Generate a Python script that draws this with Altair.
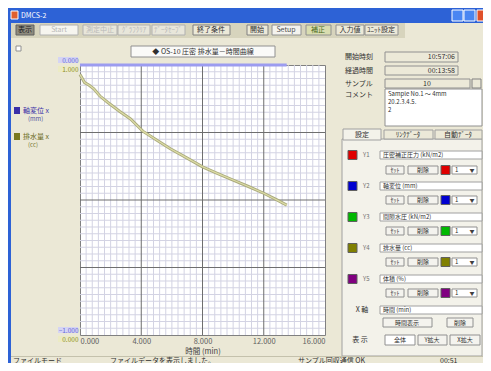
import altair as alt
import pandas as pd

# ---------------- data ----------------
time_min = [0.0, 0.3, 0.6, 0.9, 1.3, 1.8, 2.6, 3.3, 4.1, 5.0, 5.9, 7.0, 8.0, 9.0, 10.0, 11.0, 12.0, 12.8, 13.5]
drainage_cc = [0.965, 0.935, 0.925, 0.912, 0.885, 0.862, 0.828, 0.800, 0.755, 0.722, 0.690,
               0.655, 0.623, 0.598, 0.574, 0.550, 0.525, 0.502, 0.481]
axial_disp_mm = [0.0, 0.0, 0.0, 0.0, 0.0, 0.0, 0.0, 0.0, 0.0, 0.0, 0.0,
                 0.0, 0.0, 0.0, 0.0, 0.0, 0.0, 0.0, 0.0]
x_tick_values = [0, 4, 8, 12, 16]
drain_axis_values = [0, 1]
disp_axis_values = [-1, 0]
x_title = "時間 (min)"

# grid positions (graph paper: 4 major x 10 minor divisions)
x_major = [4, 8, 12]
y_major = [0.25, 0.5, 0.75]
x_minor = [i * 0.4 for i in range(1, 40) if i % 10]
y_minor = [j * 0.025 for j in range(1, 40) if j % 10]

FONT = "Noto Sans CJK JP"
W, H = 245, 270
OX, OY = 80, 65  # page position of plot origin

series = pd.DataFrame({"time": time_min, "drain": drainage_cc, "disp": axial_disp_mm})

xs = alt.Scale(domain=[0, 16], nice=False, zero=False)
ys = alt.Scale(domain=[0, 1], nice=False, zero=False)
ys2 = alt.Scale(domain=[-1, 0], nice=False, zero=False)

# ---------------- window chrome (screen-shot surroundings) ----------------
rects, t_left, t_center, t_right = [], [], [], []


def R(x1, y1, x2, y2, fill, stroke="transparent"):
    rects.append(dict(x1=x1 - OX, y1=y1 - OY, x2=x2 - OX, y2=y2 - OY, fill=fill, stroke=stroke))


def T(lst, x, y, text, color="#303030", size=7):
    lst.append(dict(x=x - OX, y=y - OY, text=text, color=color, size=size))


BLUE = "#2d62d6"
R(8, 8, 483, 23, BLUE)
R(8, 23, 11, 363, BLUE)
R(11, 11, 18, 19, "#e06030", "#ffffff")
R(452, 10, 463, 21, "#4a86f2", "#ffffff")
R(464, 10, 475, 21, "#4a86f2", "#ffffff")
R(477, 10, 489, 21, "#e0502a", "#ffffff")
T(t_left, 21, 15.5, "DMCS-2  ", "#ffffff", 7)

# toolbar
R(11, 23, 405, 38, "#d7d4bd")
R(16, 25, 34, 35, "#8e8b7e", "#606060")
R(40, 25, 78, 35, "#f6f5ef", "#b0b0b0")
R(83, 25, 117, 35, "#e8e6da", "#b0b0b0")
R(118, 25, 150, 35, "#e8e6da", "#b0b0b0")
R(152, 25, 185, 35, "#e8e6da", "#b0b0b0")
R(193, 25, 230, 35, "#ece9d8", "#808080")
R(247, 25, 268, 35, "#ece9d8", "#808080")
R(272, 25, 301, 35, "#f4f3ee", "#909090")
R(306, 25, 331, 35, "#d9ddb0", "#909090")
R(336, 25, 364, 35, "#ece9d8", "#909090")
R(365, 25, 398, 35, "#ece9d8", "#909090")
T(t_center, 25, 30, "表示", "#202020", 7)
T(t_center, 59, 30, "Start", "#b8b8b8", 7)
T(t_center, 100, 30, "測定中止", "#b8b8b8", 7)
T(t_center, 134, 30, "ｸﾞﾗﾌｸﾘｱ", "#b8b8b8", 7)
T(t_center, 168, 30, "ﾃﾞｰﾀｾｰﾌﾞ", "#b8b8b8", 7)
T(t_center, 211, 30, "終了条件", "#303030", 7)
T(t_center, 257, 30, "開始", "#303030", 7)
T(t_center, 286, 30, "Setup", "#505050", 7)
T(t_center, 318, 30, "補正", "#4a6a20", 7)
T(t_center, 350, 30, "入力値", "#303030", 7)
T(t_center, 381, 30, "ﾕﾆｯﾄ設定", "#303030", 7)

# plot title / checkbox
R(131, 46, 275, 57, "#fafaf8", "#909090")
T(t_center, 203, 51.5, "◆ OS-10 圧密  排水量－時間曲線", "#303030", 7)
R(16, 46, 21, 51, "#ffffff", "#909090")

# y-label backgrounds
R(58, 57, 78, 63, "#d4d4f4")
R(58, 66, 78, 72, "#ecebc4")
R(58, 327, 78, 333, "#d4d4f4")
R(58, 336, 78, 342, "#ecebc4")

# left legend
R(14, 107, 20, 114, "#3a30a8")
R(14, 133, 20, 140, "#7a7a20")
T(t_left, 23, 110.5, "軸変位 x", "#3a30a8", 7)
T(t_left, 28, 118.5, "(mm)", "#5050a0", 6)
T(t_left, 23, 136.5, "排水量 x", "#6a6a20", 7)
T(t_left, 28, 144.5, "(cc)", "#7a7a30", 6)

# right panel: info boxes
T(t_left, 345, 57, "開始時刻", "#303030", 7)
T(t_left, 345, 70.5, "経過時間", "#303030", 7)
T(t_left, 345, 83.5, "サンプル", "#303030", 7)
T(t_left, 345, 95, "コメント", "#303030", 7)
R(385, 52, 458, 62, "#ece9d8", "#909090")
R(385, 66, 458, 75, "#ece9d8", "#909090")
R(385, 79, 470, 88, "#ece9d8", "#909090")
R(472, 79, 481, 88, "#ece9d8", "#808080")
T(t_right, 455, 57, "10:57:06", "#303030", 7)
T(t_right, 455, 70.5, "00:13:58", "#303030", 7)
T(t_center, 427, 83.5, "10", "#303030", 7)
R(385, 89, 482, 126, "#ffffff", "#909090")
T(t_left, 388, 94, "Sample No.1  ～  4mm", "#303030", 6)
T(t_left, 388, 102, "20.2.3.4.5.", "#303030", 6)
T(t_left, 388, 110, "2", "#303030", 6)

# tab panel
R(342, 139, 482, 356, "#f3f2ea", "#a0a0a0")
R(384, 130, 433, 139, "#ece9d8", "#a0a0a0")
R(435, 130, 482, 139, "#ece9d8", "#a0a0a0")
R(343, 129, 381, 140, "#f3f2ea", "#a0a0a0")
T(t_center, 362, 134.5, "設定", "#303030", 7)
T(t_center, 408, 134.5, "ﾘﾝｸﾃﾞｰﾀ", "#303030", 7)
T(t_center, 458, 134.5, "自動ﾃﾞｰﾀ", "#303030", 7)

row_colors = ["#e00000", "#0000d0", "#00b800", "#808000", "#800080"]
row_names = ["圧密補正圧力 (kN/m2)", "軸変位 (mm)", "間隙水圧 (kN/m2)", "排水量 (cc)", "体積 (%)"]
row_cy = [155, 186, 217, 248, 279]
btn_cy = [170, 200, 231, 262, 293]
for k in range(5):
    cy, by, col = row_cy[k], btn_cy[k], row_colors[k]
    R(348, cy - 4.5, 357, cy + 4.5, col, "#606060")
    T(t_left, 363, cy, "Y%d" % (k + 1), "#707070", 6)
    R(380, cy - 4, 482, cy + 4, "#ffffff", "#a0a0a0")
    T(t_left, 383, cy, row_names[k], "#303030", 6)
    R(386, by - 4, 404, by + 4, "#f4f3ee", "#909090")
    R(408, by - 4, 438, by + 4, "#f4f3ee", "#909090")
    R(441, by - 4.5, 450, by + 4.5, col, "#606060")
    R(452, by - 4, 477, by + 4, "#ffffff", "#909090")
    T(t_center, 395, by, "ｾｯﾄ", "#303030", 6)
    T(t_center, 423, by, "削除", "#303030", 6)
    T(t_left, 455, by, "1", "#303030", 6)
    T(t_center, 472, by, "▼", "#404040", 5)

T(t_center, 362, 310, "X 軸", "#303030", 7)
R(380, 306, 482, 314, "#ffffff", "#a0a0a0")
T(t_left, 383, 310, "時間 (min)", "#303030", 6)
R(383, 318, 432, 327, "#f4f3ee", "#909090")
R(447, 318, 473, 327, "#f4f3ee", "#909090")
T(t_center, 407, 322.5, "時間表示", "#303030", 6)
T(t_center, 460, 322.5, "削除", "#303030", 6)
T(t_center, 360, 340, "表 示", "#303030", 7)
R(385, 335, 415, 345, "#ffffff", "#909090")
R(418, 335, 447, 345, "#f4f3ee", "#909090")
R(450, 335, 480, 345, "#f4f3ee", "#909090")
T(t_center, 400, 340, "全体", "#303030", 6)
T(t_center, 432, 340, "Y拡大", "#303030", 6)
T(t_center, 465, 340, "X拡大", "#303030", 6)

# status bar
R(11, 356, 483, 357, "#c4c1ac")
T(t_left, 13, 360.5, "ファイルモード", "#303030", 7)
T(t_left, 110, 360.5, "ファイルデータを表示しました。", "#303030", 7)
T(t_left, 298, 360.5, "サンプル回収通信 OK", "#303030", 7)
T(t_left, 440, 360.5, "00:51", "#303030", 7)

rect_layer = alt.Chart(pd.DataFrame(rects)).mark_rect(strokeWidth=1).encode(
    x=alt.X("x1:Q", scale=None, axis=None),
    x2="x2:Q",
    y=alt.Y("y1:Q", scale=None, axis=None),
    y2="y2:Q",
    fill=alt.Fill("fill:N", scale=None),
    stroke=alt.Stroke("stroke:N", scale=None),
)


def text_layer(rows, align):
    return alt.Chart(pd.DataFrame(rows)).mark_text(
        align=align, baseline="middle", font=FONT
    ).encode(
        x=alt.X("x:Q", scale=None, axis=None),
        y=alt.Y("y:Q", scale=None, axis=None),
        text="text:N",
        color=alt.Color("color:N", scale=None),
        size=alt.Size("size:Q", scale=None),
    )


# ---------------- plot ----------------
def vrules(vals, color):
    return alt.Chart(pd.DataFrame({"v": vals})).mark_rule(color=color, strokeWidth=1).encode(
        x=alt.X("v:Q", scale=xs, axis=None)
    )


def hrules(vals, color):
    return alt.Chart(pd.DataFrame({"v": vals})).mark_rule(color=color, strokeWidth=1).encode(
        y=alt.Y("v:Q", scale=ys, axis=None)
    )


GRID_MINOR = "#d3d3e3"
GRID_MAJOR = "#6e6e6e"

base = alt.Chart(series)
olive_outer = base.mark_line(color="#aaaa7c", strokeWidth=3).encode(
    x=alt.X("time:Q", scale=xs, title=x_title, axis=alt.Axis(
        values=x_tick_values, format=".3f", labelFontSize=7.5, labelColor="#606060",
        labelFont=FONT, ticks=False, domain=False, grid=False, labelPadding=2,
        titleFontSize=7.5, titleFontWeight="normal", titleColor="#404040",
        titleFont=FONT, titlePadding=3, orient="bottom", zindex=1)),
    y=alt.Y("drain:Q", scale=ys, title=None, axis=alt.Axis(
        values=drain_axis_values, format=".3f", orient="left", labelFontSize=6.5,
        labelColor="#8c8c30", labelFont=FONT, labelOffset=4.5, labelPadding=2,
        ticks=False, domain=False, grid=False, zindex=1)),
)
olive_inner = base.mark_line(color="#dcdca6", strokeWidth=1.3).encode(
    x=alt.X("time:Q", scale=xs, axis=None),
    y=alt.Y("drain:Q", scale=ys, axis=None),
)
purple = base.mark_line(color="#9c9cf0", strokeWidth=3).encode(
    x=alt.X("time:Q", scale=xs, axis=None),
    y=alt.Y("disp:Q", scale=ys2, title=None, axis=alt.Axis(
        values=disp_axis_values, format=".3f", orient="left", labelFontSize=6.5,
        labelColor="#6a6ad8", labelFont=FONT, labelOffset=-5, labelPadding=2,
        ticks=False, domain=False, grid=False, zindex=1)),
)

chart = alt.layer(
    rect_layer,
    text_layer(t_left, "left"),
    text_layer(t_center, "center"),
    text_layer(t_right, "right"),
    vrules(x_minor, GRID_MINOR),
    hrules(y_minor, GRID_MINOR),
    vrules(x_major, GRID_MAJOR),
    hrules(y_major, GRID_MAJOR),
    olive_outer,
    olive_inner,
    purple,
).resolve_scale(x="independent", y="independent").properties(
    width=W,
    height=H,
    autosize=alt.AutoSizeParams(type="none"),
    padding={"left": 72, "top": 57, "right": 158, "bottom": 28},
    background="#ebe8d6",
).configure_view(
    fill="#ffffff", stroke="#808080", strokeWidth=1
)

chart.save("out.html", embed_options={"renderer": "svg", "actions": False})
